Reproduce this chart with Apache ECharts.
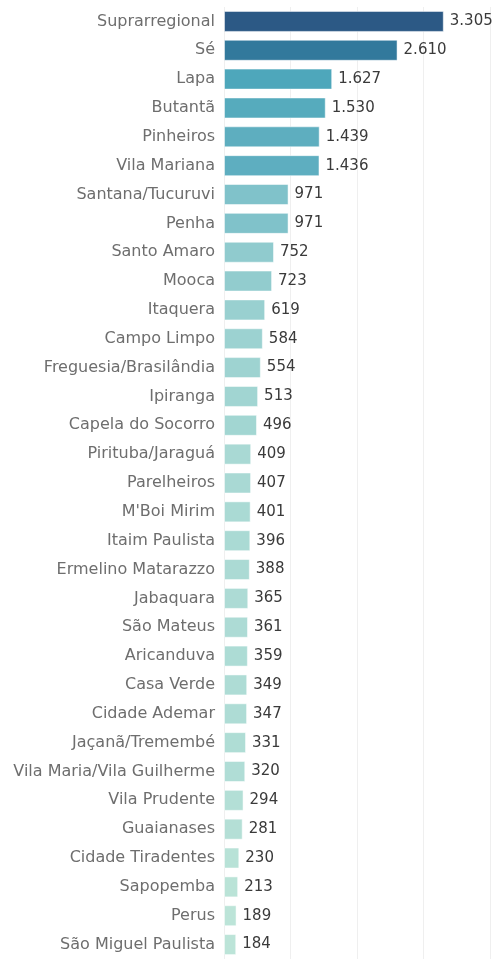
<!DOCTYPE html>
<html>
<head>
<meta charset="utf-8">
<script src="https://cdn.jsdelivr.net/npm/echarts@6/dist/echarts.min.js"></script>
<style>
  html, body { margin: 0; padding: 0; background: #fff; }
  #bar { width: 496px; height: 959px; }
</style>
</head>
<body>
<div id="bar"></div>
<script>
// subprefeituras, de cima para baixo
const regioes = [
  'Suprarregional', 'Sé', 'Lapa', 'Butantã', 'Pinheiros', 'Vila Mariana',
  'Santana/Tucuruvi', 'Penha', 'Santo Amaro', 'Mooca', 'Itaquera', 'Campo Limpo',
  'Freguesia/Brasilândia', 'Ipiranga', 'Capela do Socorro', 'Pirituba/Jaraguá',
  'Parelheiros', "M'Boi Mirim", 'Itaim Paulista', 'Ermelino Matarazzo', 'Jabaquara',
  'São Mateus', 'Aricanduva', 'Casa Verde', 'Cidade Ademar', 'Jaçanã/Tremembé',
  'Vila Maria/Vila Guilherme', 'Vila Prudente', 'Guaianases', 'Cidade Tiradentes',
  'Sapopemba', 'Perus', 'São Miguel Paulista'
];
const totais = [
  3305, 2610, 1627, 1530, 1439, 1436,
  971, 971, 752, 723, 619, 584,
  554, 513, 496, 409,
  407, 401, 396, 388, 365,
  361, 359, 349, 347, 331,
  320, 294, 281, 230,
  213, 189, 184
];
// paleta azul-verde (claro -> escuro)
const paleta = ['#bce4d8', '#aedcd5', '#a1d5d2', '#95cecf', '#89c8cc', '#7ec1ca', '#72bac6',
  '#66b2c2', '#59acbe', '#4ba5ba', '#419eb6', '#3b96b2', '#358ead', '#3586a7', '#347ea1',
  '#32779b', '#316f96', '#2f6790', '#2d608a', '#2c5985'];

function fmt(v) {
  return String(v).replace(/\B(?=(\d{3})+(?!\d))/g, '.');
}

let bar = echarts.init(document.getElementById('bar'));
let option = {
  animation: false,
  textStyle: { fontFamily: 'DejaVu Sans' },
  grid: { left: 224, right: 6, top: 7, height: 957 },
  visualMap: {
    show: false,
    type: 'continuous',
    min: Math.min(...totais),
    max: Math.max(...totais),
    dimension: 0,
    inRange: { color: paleta }
  },
  xAxis: {
    type: 'value',
    min: 0,
    max: 4000,
    interval: 1000,
    axisLabel: { show: false },
    axisLine: { show: false },
    axisTick: { show: false },
    splitLine: { lineStyle: { color: '#efefef', width: 1 } }
  },
  yAxis: {
    type: 'category',
    inverse: true,
    data: regioes,
    axisLine: { show: false },
    axisTick: { show: false },
    axisLabel: { color: '#6e6e6e', fontSize: 16, margin: 9 }
  },
  series: [{
    type: 'bar',
    data: totais,
    barWidth: 21,
    itemStyle: { borderColor: 'rgba(255,255,255,0.5)', borderWidth: 1 },
    label: {
      show: true,
      position: 'right',
      distance: 6,
      color: '#3a3a3a',
      fontSize: 15,
      formatter: p => fmt(p.value)
    }
  }]
};
bar.setOption(option);
</script>
</body>
</html>
